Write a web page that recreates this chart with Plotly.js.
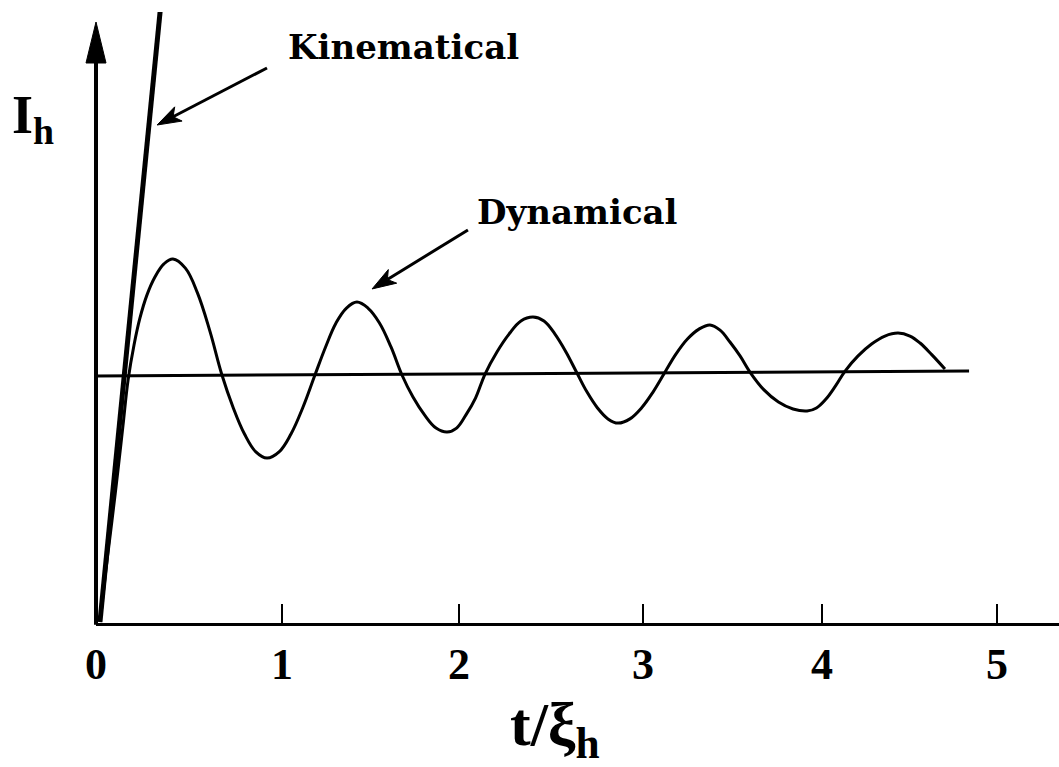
<!DOCTYPE html>
<html>
<head>
<meta charset="utf-8">
<script src="https://cdn.plot.ly/plotly-3.0.1.min.js"></script>
<style>html,body{margin:0;padding:0;background:#fff;}#chart{width:1059px;height:767px;}</style>
</head>
<body>
<div id="chart"></div>
<script>
// ---- data ----
const tickVals = [0, 1.032, 2.015, 3.036, 4.029, 5];
const tickText = ['0', '1', '2', '3', '4', '5'];

const dynX = [0.022,0.055,0.089,0.122,0.150,0.178,0.211,0.244,0.283,0.327,0.377,0.427,
  0.496,0.563,0.632,0.699,0.760,0.824,0.887,0.949,1.016,1.082,1.149,1.215,
  1.274,1.332,1.390,1.448,1.509,1.573,1.637,1.698,1.759,1.823,1.887,1.948,
  2.001,2.053,2.106,2.159,2.225,2.292,2.358,2.425,2.486,2.547,2.608,2.669,
  2.725,2.783,2.841,2.897,2.963,3.027,3.091,3.158,3.219,3.282,3.346,3.407,
  3.463,3.518,3.574,3.629,3.707,3.787,3.868,3.946,3.998,4.051,4.104,4.157,
  4.229,4.304,4.378,4.451,4.517,4.573,4.639,4.711];
const dynY = [0.004,0.214,0.415,0.617,0.798,0.980,1.121,1.230,1.323,1.395,1.448,1.468,
  1.431,1.331,1.177,1.000,0.871,0.762,0.690,0.665,0.690,0.762,0.871,1.000,
  1.113,1.210,1.270,1.294,1.270,1.210,1.113,1.000,0.911,0.839,0.786,0.770,
  0.786,0.839,0.907,1.004,1.093,1.165,1.218,1.234,1.218,1.165,1.093,1.008,
  0.931,0.867,0.823,0.806,0.823,0.867,0.931,1.012,1.085,1.145,1.185,1.202,
  1.181,1.133,1.077,1.012,0.940,0.891,0.863,0.855,0.867,0.903,0.956,1.016,
  1.077,1.125,1.157,1.169,1.157,1.129,1.081,1.024];

const kinX = [0.022, 0.37];
const kinY = [0.004, 2.57];

const baseX = [0, 4.845];
const baseY = [0.996, 1.016];

// arrow pointers (tail -> tip), in data units
const kinArrowTail = [0.949, 2.238];
const kinArrowTip  = [0.339, 2.008];
const dynArrowTail = [2.064, 1.585];
const dynArrowTip  = [1.532, 1.347];

// ---- layout geometry ----
const W = 1059, H = 767;
const M = {l: 96, r: 0, t: 12, b: 144};
const xRange = [0, 5.344];
const yRange = [0, 2.4637];
const plotW = W - M.l - M.r, plotH = H - M.t - M.b;
const sx = plotW / (xRange[1] - xRange[0]);
const sy = plotH / (yRange[1] - yRange[0]);

function toPx(p) { return [(p[0] - xRange[0]) * sx, -(p[1] - yRange[0]) * sy]; }
function toData(q) { return [q[0] / sx + xRange[0], -q[1] / sy + yRange[0]]; }

function arrowShapes(tail, tip, len, halfw, notch, lw) {
  const a = toPx(tail), b = toPx(tip);
  const dx = b[0] - a[0], dy = b[1] - a[1];
  const d = Math.hypot(dx, dy);
  const ux = dx / d, uy = dy / d, nx = -uy, ny = ux;
  const back = [b[0] - ux * len, b[1] - uy * len];
  const L = toData([back[0] + nx * halfw, back[1] + ny * halfw]);
  const R = toData([back[0] - nx * halfw, back[1] - ny * halfw]);
  const N = toData([b[0] - ux * (len - notch), b[1] - uy * (len - notch)]);
  return [
    {type: 'line', xref: 'x', yref: 'y', x0: tail[0], y0: tail[1], x1: N[0], y1: N[1],
     line: {color: '#000', width: lw}},
    {type: 'path', xref: 'x', yref: 'y',
     path: `M ${tip[0]},${tip[1]} L ${L[0]},${L[1]} L ${N[0]},${N[1]} L ${R[0]},${R[1]} Z`,
     fillcolor: '#000', line: {color: '#000', width: 1}}
  ];
}

const traces = [
  {x: baseX, y: baseY, mode: 'lines', line: {color: '#000', width: 3}, hoverinfo: 'skip', showlegend: false},
  {x: kinX, y: kinY, mode: 'lines', name: 'Kinematical', line: {color: '#000', width: 5}, showlegend: false},
  {x: dynX, y: dynY, mode: 'lines', name: 'Dynamical', line: {color: '#000', width: 3, shape: 'spline', smoothing: 1.1}, showlegend: false}
];

// y axis arrow (paper coords)
const tipPaperY = (plotH - 10) / plotH;       // arrow tip
const basePaperY = (plotH - 51) / plotH;      // arrow head base
const halfWPaper = 10 / plotW;

const shapes = [
  {type: 'line', xref: 'paper', yref: 'paper', x0: 0, x1: 0, y0: -0.003, y1: basePaperY + 0.01,
   line: {color: '#000', width: 4}},
  {type: 'path', xref: 'paper', yref: 'paper',
   path: `M ${-halfWPaper},${basePaperY} L 0,${tipPaperY} L ${halfWPaper},${basePaperY} Z`,
   fillcolor: '#000', line: {color: '#000', width: 1}}
].concat(arrowShapes(kinArrowTail, kinArrowTip, 24, 8, 6, 3))
 .concat(arrowShapes(dynArrowTail, dynArrowTip, 24, 8, 6, 3));

const labelFont = {family: 'DejaVu Serif', size: 34, color: '#000', weight: 'bold'};

const annotations = [
  {xref: 'paper', yref: 'paper', x: 0.319, y: 0.943, text: 'Kinematical', showarrow: false,
   font: labelFont, xanchor: 'center', yanchor: 'middle'},
  {xref: 'paper', yref: 'paper', x: 0.4995, y: 0.673, text: 'Dynamical', showarrow: false,
   font: labelFont, xanchor: 'center', yanchor: 'middle'},
  {xref: 'paper', yref: 'paper', x: -0.065, y: 0.826, text: 'I<sub>h</sub>', showarrow: false,
   font: {family: 'Liberation Serif', size: 54, color: '#000', weight: 'bold'}, xanchor: 'center', yanchor: 'middle'},
  {xref: 'paper', yref: 'paper', x: 0.477, y: -0.172, text: 't/ξ<sub>h</sub>', showarrow: false,
   font: {family: 'Liberation Serif', size: 62, color: '#000', weight: 'bold'}, xanchor: 'center', yanchor: 'middle'}
];

const layout = {
  width: W, height: H,
  margin: M,
  paper_bgcolor: '#fff', plot_bgcolor: '#fff',
  showlegend: false,
  xaxis: {
    range: xRange, showline: true, linecolor: '#000', linewidth: 3,
    ticks: 'inside', ticklen: 19, tickwidth: 2.5, tickcolor: '#000',
    tickmode: 'array', tickvals: tickVals, ticktext: tickText,
    tickfont: {family: 'Liberation Serif', size: 44, color: '#000', weight: 'bold'},
    showgrid: false, zeroline: false, fixedrange: true
  },
  yaxis: {
    range: yRange, showline: false, showticklabels: false, ticks: '',
    showgrid: false, zeroline: false, fixedrange: true
  },
  shapes: shapes,
  annotations: annotations
};

Plotly.newPlot('chart', traces, layout, {staticPlot: true, displayModeBar: false});
</script>
</body>
</html>
